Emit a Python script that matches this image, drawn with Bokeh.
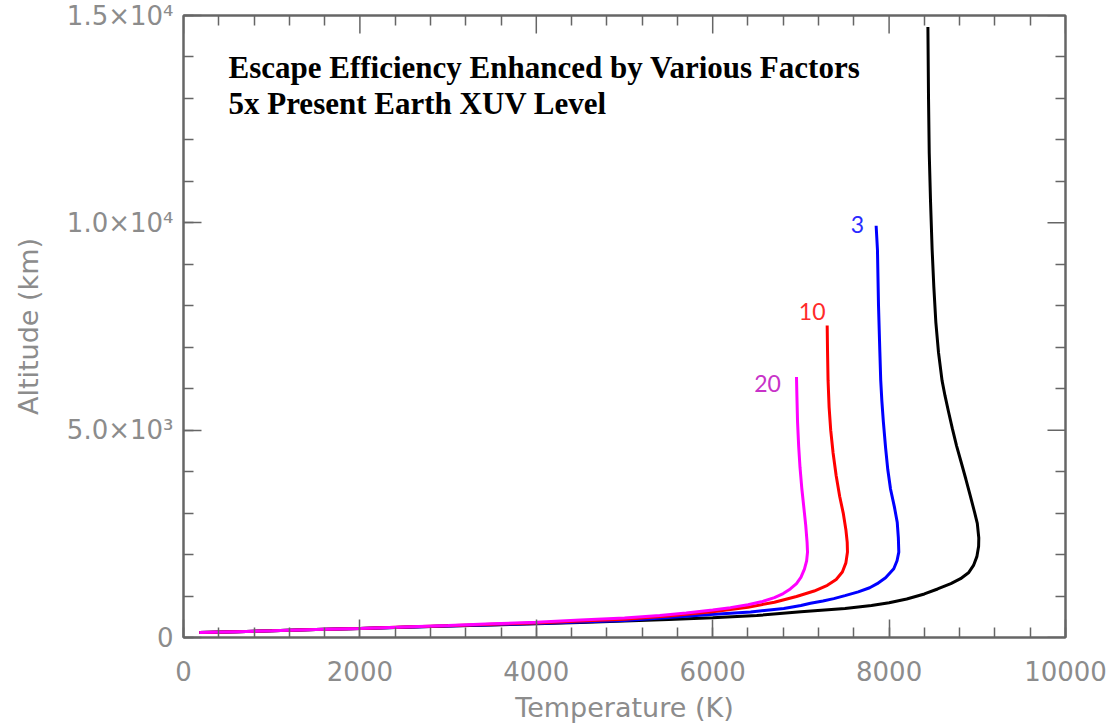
from bokeh.plotting import figure
from bokeh.models import Range1d, SingleIntervalTicker, FixedTicker, LinearAxis
from bokeh.embed import file_html
from bokeh.resources import INLINE
from bokeh.core.properties import value

# ---- data (temperature K, altitude km) ----
black_T = [180, 600, 1000, 1500, 2000, 2500, 3000, 3500, 4000, 4500, 5000, 5500, 6000, 6500, 7000, 7500, 7800, 8000, 8200, 8400,
           8550, 8700, 8810, 8900, 8957, 8995, 9015, 9017, 9000, 8968, 8920, 8870, 8818, 8765, 8718, 8675, 8635, 8600, 8560,
           8530, 8507, 8488, 8470, 8455, 8447, 8440]
black_alt = [120, 140, 160, 190, 220, 248, 275, 302, 330, 360, 395, 432, 475, 530, 620, 700, 770, 840, 930, 1050,
             1170, 1300, 1418, 1560, 1738, 1950, 2200, 2400, 2750, 3029, 3420, 3822, 4220, 4623, 5030, 5433, 5820, 6200, 6875,
             7600, 8462, 9351, 10500, 11683, 13000, 14720]

blue_T = [180, 600, 1000, 1500, 2000, 2500, 3000, 3500, 4000, 4500, 5000, 5500, 5975, 6430, 6806, 7000, 7109, 7250, 7373, 7500,
          7650, 7780, 7865, 7960, 8053, 8090, 8110, 8105, 8092, 8060, 8016, 7985, 7960, 7935, 7918, 7905, 7895, 7880, 7868,
          7853]
blue_alt = [120, 140, 160, 190, 220, 250, 280, 310, 340, 375, 410, 480, 553, 617, 697, 770, 827, 880, 938, 1010,
            1100, 1200, 1298, 1440, 1659, 1850, 2060, 2400, 2781, 3150, 3582, 4050, 4580, 5200, 5700, 6200, 6900, 8000, 9350,
            9930]

red_T = [180, 600, 1000, 1500, 2000, 2500, 3000, 3500, 4000, 4500, 5000, 5500, 6000, 6400, 6700, 6950, 7150, 7300, 7400, 7470,
         7510, 7528, 7525, 7510, 7480, 7440, 7400, 7365, 7338, 7320, 7308, 7302, 7298]
red_alt = [120, 140, 160, 190, 220, 252, 285, 318, 350, 395, 440, 520, 620, 730, 850, 990, 1120, 1260, 1400, 1580,
           1800, 2060, 2300, 2600, 3000, 3400, 3900, 4450, 5000, 5550, 6200, 6900, 7524]

mag_T = [180, 600, 1000, 1500, 2000, 2500, 3000, 3500, 4000, 4500, 5000, 5400, 5700, 6000, 6200, 6400, 6550, 6700, 6800, 6880,
         6950, 7000, 7040, 7065, 7075, 7070, 7055, 7035, 7010, 6990, 6975, 6962, 6955, 6950]
mag_alt = [120, 140, 160, 190, 220, 255, 290, 330, 370, 420, 470, 530, 590, 665, 720, 790, 860, 960, 1060, 1170,
           1300, 1450, 1650, 1850, 2060, 2300, 2700, 3100, 3600, 4100, 4600, 5200, 5800, 6282]

curve_labels = ["3", "10", "20"]
curve_label_T = [7642, 7128, 6621]
curve_label_alt = [9950, 7868, 6130]
curve_label_colors = ["#2a2aff", "#ff2a2a", "#c832c8"]

title_lines = ["Escape Efficiency Enhanced by Various Factors", "5x Present Earth XUV Level"]
title_T = [510, 510]
title_alt = [13757, 12877]

x_major = [0, 2000, 4000, 6000, 8000, 10000]
y_major = [0, 5000, 10000, 15000]
x_minor = [v for v in range(0, 10001, 400) if v % 2000 != 0]
y_minor = [v for v in range(0, 15001, 1000) if v % 5000 != 0]
y_tick_labels = {0: "0", 5000: "5.0\u00d710\u00b3", 10000: "1.0\u00d710\u2074", 15000: "1.5\u00d710\u2074"}

AX = "#666666"
LAB = "#8c8c8c"
FRAME_W, FRAME_H = 882, 624
X0, X1, Y0, Y1 = 0, 10000, 0, 15000
MAJ_LEN, MIN_LEN = 18, 10

p = figure(width=1110, height=725, x_range=Range1d(X0, X1), y_range=Range1d(Y0, Y1),
           output_backend="svg", toolbar_location=None,
           min_border_left=183, min_border_right=45, min_border_top=15, min_border_bottom=86)
p.grid.visible = False
p.outline_line_color = AX
p.outline_line_width = 2
p.background_fill_color = "white"
p.border_fill_color = "white"

def style(ax):
    ax.axis_line_color = AX
    ax.axis_line_width = 2
    ax.major_tick_in = MAJ_LEN
    ax.major_tick_out = 0
    ax.minor_tick_in = MIN_LEN
    ax.minor_tick_out = 0
    ax.major_tick_line_color = AX
    ax.minor_tick_line_color = AX
    ax.major_tick_line_width = 1.5
    ax.minor_tick_line_width = 1.5
    ax.major_label_text_font = "DejaVu Sans"
    ax.major_label_text_color = LAB
    ax.major_label_text_font_size = "26px"

xa = p.xaxis[0]
xa.ticker = SingleIntervalTicker(interval=2000, num_minor_ticks=5)
style(xa)
xa.major_label_standoff = 23
xa.axis_label = "Temperature (K)"
xa.axis_label_text_font = "DejaVu Sans"
xa.axis_label_text_font_style = "normal"
xa.axis_label_text_font_size = "27px"
xa.axis_label_text_color = LAB
xa.axis_label_standoff = 8

ya = p.yaxis[0]
ya.ticker = SingleIntervalTicker(interval=5000, num_minor_ticks=5)
style(ya)
ya.major_label_standoff = 10
ya.major_label_overrides = y_tick_labels
ya.axis_label = "Altitude (km)"
ya.axis_label_text_font = "DejaVu Sans"
ya.axis_label_text_font_style = "normal"
ya.axis_label_text_font_size = "27px"
ya.axis_label_text_color = LAB
ya.axis_label_standoff = 20

# mirrored axes (top / right): minor ticks from the axis, no labels
top = LinearAxis(ticker=FixedTicker(ticks=[], minor_ticks=x_minor))
style(top)
p.add_layout(top, "above")
right = LinearAxis(ticker=FixedTicker(ticks=[], minor_ticks=y_minor))
style(right)
p.add_layout(right, "right")

# longer major ticks on the mirrored axes
dy = MAJ_LEN * (Y1 - Y0) / FRAME_H
dx = MAJ_LEN * (X1 - X0) / FRAME_W
p.segment(x0=x_major, y0=[Y1] * len(x_major), x1=x_major, y1=[Y1 - dy] * len(x_major),
          line_color=AX, line_width=1.5)
p.segment(x0=[X1] * len(y_major), y0=y_major, x1=[X1 - dx] * len(y_major), y1=y_major,
          line_color=AX, line_width=1.5)

p.line(black_T, black_alt, line_color="black", line_width=3)
p.line(blue_T, blue_alt, line_color="#0000ff", line_width=3)
p.line(red_T, red_alt, line_color="#ff0000", line_width=3)
p.line(mag_T, mag_alt, line_color="#ff00ff", line_width=3)

p.text(x=curve_label_T, y=curve_label_alt, text=curve_labels, text_color=curve_label_colors,
       text_font=value("Lato"), text_font_size="23px", text_align="center", text_baseline="middle")

p.text(x=title_T, y=title_alt, text=title_lines, text_color="black",
       text_font=value("Liberation Serif"), text_font_style="bold", text_font_size="31px",
       text_align="left", text_baseline="alphabetic")

open("out.html", "w").write(file_html(p, INLINE))
